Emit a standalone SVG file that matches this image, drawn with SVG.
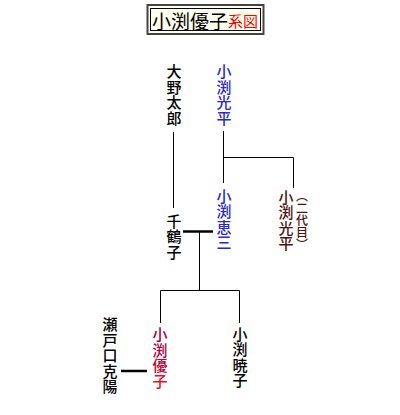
<svg xmlns="http://www.w3.org/2000/svg" width="400" height="415" viewBox="0 0 400 415">
<style>
text{font-family:"Noto Sans CJK JP","Noto Sans CJK SC",sans-serif;font-size:15px;font-weight:500}
.v{writing-mode:vertical-rl;text-anchor:start;letter-spacing:0.5px}
.ln{stroke:#000;stroke-width:1;fill:none}
.mar{stroke:#000;stroke-width:2.5;fill:none}
.blue{fill:#2828cc}
.brown{fill:#4a1212}
.blk{fill:#000}
</style>
<rect width="400" height="415" fill="#fff"/>
<g id="title">
<rect x="147.5" y="5" width="116" height="29" fill="#ffffee" stroke="#444" stroke-width="2"/>
<rect x="150.5" y="8.5" width="110" height="22" fill="none" stroke="#000" stroke-width="1"/>
<text x="152" y="20" style="dominant-baseline:central;font-size:19px;font-weight:400" class="blk">小渕優子<tspan style="font-size:15px" fill="#ff0000">系図</tspan></text>
</g>
<g id="connectors">
<line class="ln" x1="173.5" y1="132" x2="173.5" y2="208"/>
<line class="ln" x1="223.5" y1="131" x2="223.5" y2="183"/>
<polyline class="ln" points="223.5,157.5 293.5,157.5 293.5,188"/>
<line class="mar" x1="183" y1="231.5" x2="213" y2="231.5"/>
<line class="ln" x1="199.5" y1="231" x2="199.5" y2="290.5"/>
<polyline class="ln" points="160.5,323 160.5,290.5 239.5,290.5 239.5,323"/>
<line class="mar" x1="121" y1="371" x2="147" y2="371"/>
</g>
<g id="n_ono_taro">
<text class="blk v" x="174" y="64">大野太郎</text>
</g>
<g id="n_obuchi_kohei">
<text class="blue v" x="224" y="64">小渕光平</text>
</g>
<g id="n_chizuko">
<text class="blk v" x="174" y="213.5">千鶴子</text>
</g>
<g id="n_obuchi_keizo">
<text class="blue v" x="224" y="188.5">小渕恵三</text>
</g>
<g id="n_obuchi_kohei2">
<text class="brown v" x="286" y="189.5">小渕光平</text>
<text class="brown v" x="302" y="190" style="font-size:12px;letter-spacing:0">（二代目）</text>
</g>
<g id="n_seto">
<text class="blk v" x="110" y="317">瀬戸口克陽</text>
</g>
<g id="n_obuchi_yuko">
<text class="v" x="160" y="326.5"><tspan fill="#9a0040">小</tspan><tspan fill="#b00038">渕</tspan><tspan fill="#c80030">優</tspan><tspan fill="#e81020">子</tspan></text>
</g>
<g id="n_obuchi_akiko">
<text class="blk v" x="240" y="326.5">小渕暁子</text>
</g>
</svg>
